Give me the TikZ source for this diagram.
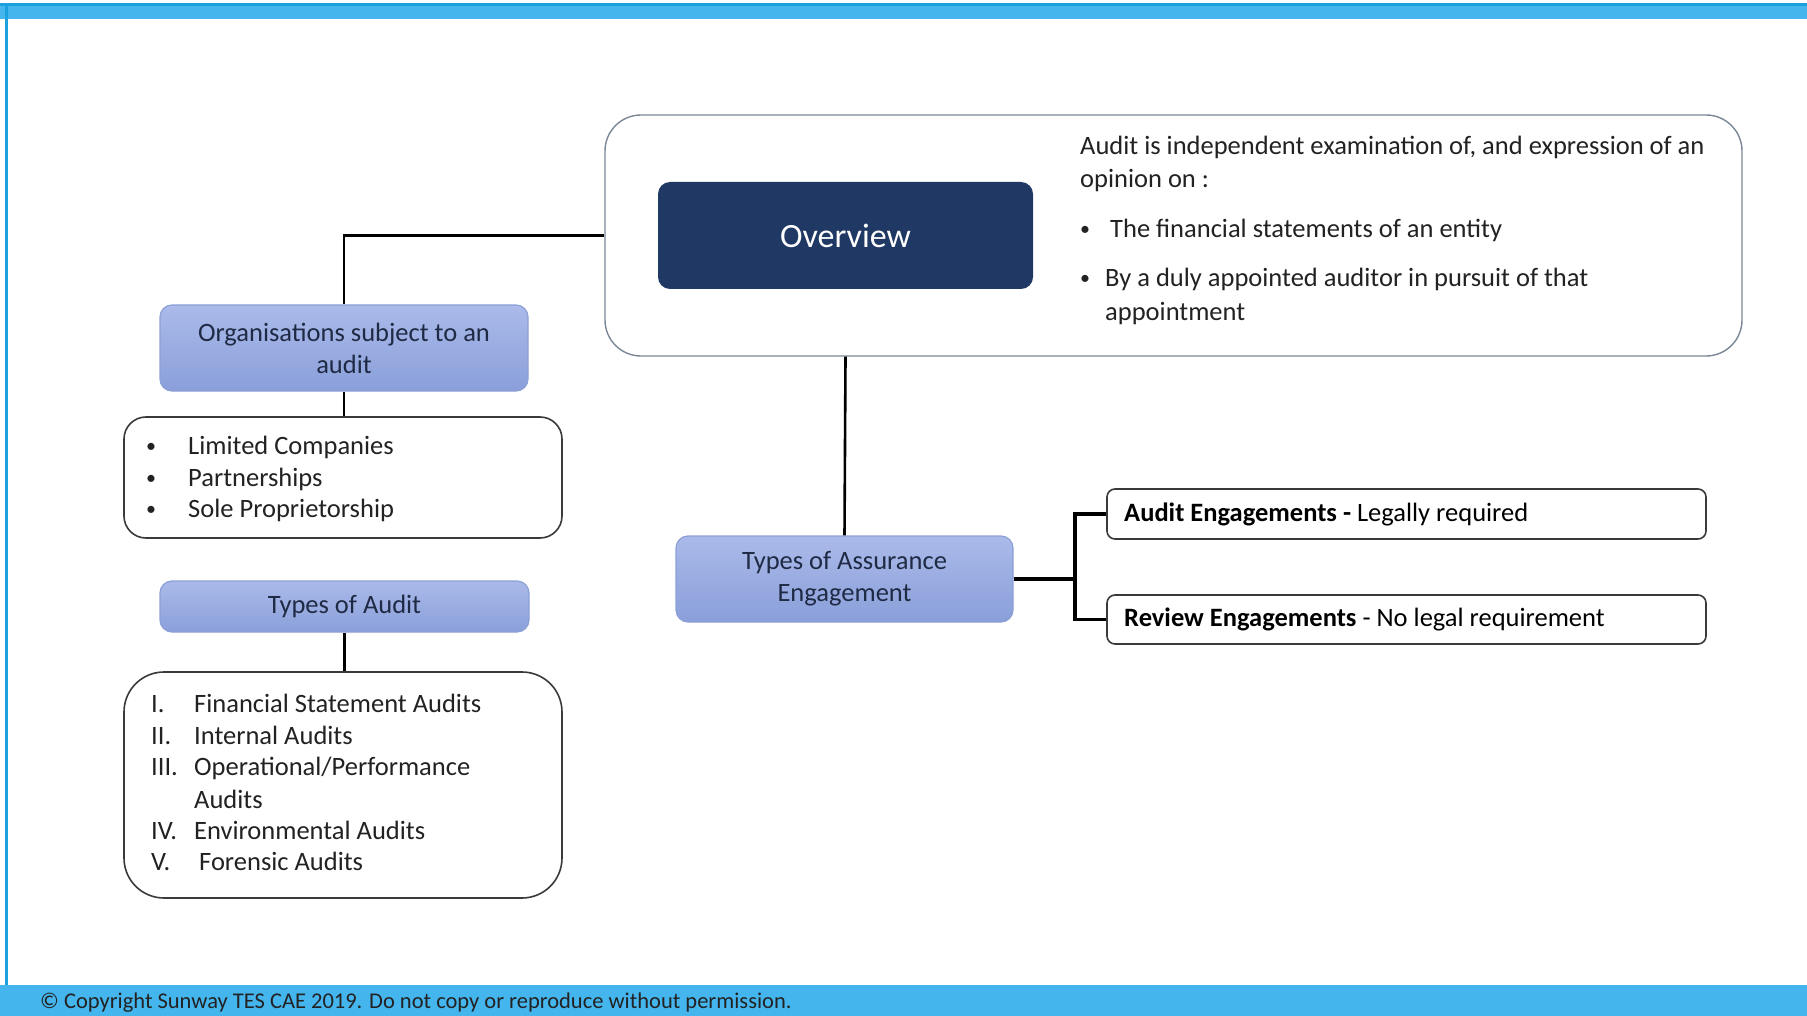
\documentclass[tikz,border=0pt]{standalone}
\usepackage{fontspec}
\setmainfont{Carlito}
\definecolor{barblue}{HTML}{45B5EE}
\definecolor{bardark}{HTML}{1BA1DD}
\definecolor{navy}{HTML}{203864}
\definecolor{boxtop}{HTML}{AABAE9}
\definecolor{boxbot}{HTML}{8A9FDA}
\definecolor{boxline}{HTML}{8CA0D6}
\definecolor{boxtext}{HTML}{1F2A44}
\definecolor{frameline}{HTML}{7A8796}
\definecolor{listline}{HTML}{3A3A3A}
\definecolor{bodytext}{HTML}{222222}
\begin{document}
\begin{tikzpicture}[x=1pt,y=-1pt,
  every node/.style={font=\fontsize{26.5}{32}\selectfont},
  bluebox/.style={draw=boxline, line width=1.2pt, rounded corners=12pt, top color=boxtop, bottom color=boxbot, text=boxtext, align=center, inner sep=0pt},
  listbox/.style={draw=listline, line width=1.6pt, rounded corners=22pt, fill=white, inner sep=0pt},
  engbox/.style={draw=listline, line width=1.6pt, rounded corners=8pt, fill=white, inner sep=0pt},
  conn/.style={draw=black, line width=2.6pt},
  fork/.style={draw=black, line width=3.2pt},
  txt/.style={anchor=base west, inner sep=0pt, text=bodytext},
  bul/.style={anchor=base west, inner sep=0pt, text=bodytext, font=\fontsize{20}{24}\selectfont}
]
\path[use as bounding box] (0,0) rectangle (1807,1016);
\fill[white] (0,0) rectangle (1807,1016);
% bars
\fill[barblue] (0,3) rectangle (1807,19);
\fill[bardark] (0,3) rectangle (1807,6);
\fill[bardark] (5,3) rectangle (8,1016);
\fill[barblue] (0,985) rectangle (1807,1016);
\node[anchor=west, inner sep=0pt, text=bodytext, font=\fontsize{22.5}{24}\selectfont] (foot) at (40,1003) {© Copyright Sunway TES CAE 2019. Do not copy or reproduce without permission.};

% overview
\node[draw=frameline, line width=1.4pt, rounded corners=36pt, minimum width=1137, minimum height=241, inner sep=0pt] (ovframe) at (1173.5,235.5) {};
\node[fill=navy, rounded corners=12pt, minimum width=375, minimum height=107, inner sep=0pt, text=white, font=\fontsize{34}{40}\selectfont] (ov) at (845.5,235.5) {Overview};
\node[txt] (ovt1) at (1080,155) {Audit is independent examination of, and expression of an};
\node[txt] (ovt2) at (1080,188) {opinion on :};
\node[bul] (ovb1) at (1080,236) {•};
\node[txt] (ovt3) at (1110,238) {The financial statements of an entity};
\node[bul] (ovb2) at (1080,285) {•};
\node[txt] (ovt4) at (1105,287) {By a duly appointed auditor in pursuit of that};
\node[txt] (ovt5) at (1105,320) {appointment};

% organisations
\node[bluebox, minimum width=368, minimum height=86] (org) at (344,348) {Organisations subject to an\\audit};
\node[listbox, minimum width=438, minimum height=121] (orglist) at (343,477.5) {};
\node[bul] (ob1) at (146,452) {•};
\node[txt] (ol1) at (188,454) {Limited Companies};
\node[bul] (ob2) at (146,484) {•};
\node[txt] (ol2) at (188,486) {Partnerships};
\node[bul] (ob3) at (146,515) {•};
\node[txt] (ol3) at (188,517) {Sole Proprietorship};

% types of audit
\node[bluebox, minimum width=369, minimum height=51] (toa) at (344.5,606.5) {Types of Audit};
\node[listbox, rounded corners=40pt, minimum width=438, minimum height=226] (tlist) at (343,785) {};
\node[txt] (tn1) at (151,712) {I.};
\node[txt] (tl1) at (194,712) {Financial Statement Audits};
\node[txt] (tn2) at (151,744) {II.};
\node[txt] (tl2) at (194,744) {Internal Audits};
\node[txt] (tn3) at (151,775) {III.};
\node[txt] (tl3) at (194,775) {Operational/Performance};
\node[txt] (tl3b) at (194,808) {Audits};
\node[txt] (tn4) at (151,839) {IV.};
\node[txt] (tl4) at (194,839) {Environmental Audits};
\node[txt] (tn5) at (151,870) {V.};
\node[txt] (tl5) at (199,870) {Forensic Audits};

% assurance
\node[bluebox, minimum width=337, minimum height=86] (assur) at (844.5,579) {Types of Assurance\\Engagement};
\node[engbox, minimum width=599, minimum height=50] (ae) at (1406.5,514) {};
\node[engbox, minimum width=599, minimum height=49] (re) at (1406.5,619.5) {};
\node[anchor=west, inner sep=0pt, text=black] (aet) at (1124,514) {\textbf{Audit Engagements -} Legally required};
\node[anchor=west, inner sep=0pt, text=black] (ret) at (1124,619.5) {\textbf{Review Engagements} - No legal requirement};

% connectors
\draw[conn] (ovframe.west) -| (org.north);
\draw[conn] (org.south) -- (org.south |- orglist.north);
\draw[conn] (toa.south) -- (toa.south |- tlist.north);
\draw[conn] (ov.south |- ovframe.south) -- (assur.north);
\coordinate (forkpt) at (1075,579);
\draw[fork] (assur.east) -- (forkpt);
\draw[fork] (ae.west) -- (forkpt |- ae.west) -- (forkpt |- re.west) -- (re.west);
\end{tikzpicture}
\end{document}
